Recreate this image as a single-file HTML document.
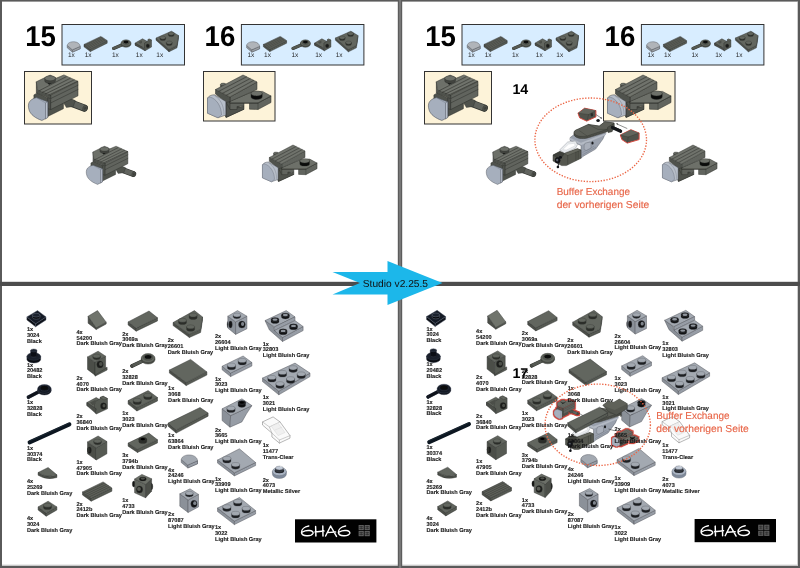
<!DOCTYPE html>
<html><head><meta charset="utf-8"><title>Studio v2.25.5</title>
<style>
html,body{margin:0;padding:0;background:#fff;}
body{width:800px;height:568px;overflow:hidden;font-family:"Liberation Sans",sans-serif;}
svg{display:block;will-change:transform;opacity:0.999;}
text{font-family:"Liberation Sans",sans-serif;text-rendering:geometricPrecision;}
.lb{font-weight:bold;font-size:5.6px;fill:#1a1a1a;stroke:#1a1a1a;stroke-width:0.12px;}
.q{font-size:6.5px;fill:#1e1e1e;}
.num{font-weight:bold;font-size:28.8px;fill:#000;}
.org{font-size:10.1px;fill:#e8674a;stroke:#e8674a;stroke-width:0.15px;}
</style></head><body>
<svg width="800" height="568" viewBox="0 0 800 568">
<defs>
<filter id="redo" x="-20%" y="-20%" width="140%" height="140%"><feMorphology in="SourceAlpha" operator="dilate" radius="0.6" result="d"/><feFlood flood-color="#cf4a40"/><feComposite in2="d" operator="in" result="r"/><feMerge><feMergeNode in="r"/><feMergeNode in="SourceGraphic"/></feMerge></filter>

<g id="top"><text class="num" x="25.2" y="46.3" textLength="30.7" lengthAdjust="spacingAndGlyphs">15</text><text class="num" x="204.6" y="46.3" textLength="30.7" lengthAdjust="spacingAndGlyphs">16</text><g id="sbox"><rect x="62" y="24.5" width="122.5" height="40.5" fill="#d8edff" stroke="#333" stroke-width="1"/><path d="M67.2 45.4 L67.2 47.8 L72.4 52.2 L80.2 48.8 L80.2 46.4 L72.4 49.8 Z" fill="#8f949a" stroke="#4a4d52" stroke-width="0.4"/><path d="M72.4 49.8 L80.2 46.4 L80.2 48.8 L72.4 52.2 Z" fill="#9ba0a6" stroke="#4a4d52" stroke-width="0.4"/><path d="M67.2 45.4 C67.7 42.6 71.2 41.4 74.7 41.8 C77.7 42.1 80.2 44.1 80.2 46.4 L72.4 49.8 Z" fill="#b0b4b9" stroke="#4a4d52" stroke-width="0.4"/><polygon points="84.0,44.4 90.4,49.2 90.4,51.6 84.0,46.8" fill="#4b4e48" stroke="#30322e" stroke-width="0.45" stroke-linejoin="round" /><polygon points="90.4,49.2 107.2,40.8 107.2,43.2 90.4,51.6" fill="#565a53" stroke="#30322e" stroke-width="0.45" stroke-linejoin="round" /><polygon points="84.0,44.4 100.8,36.4 107.2,40.8 90.4,49.2" fill="#585b54" stroke="#30322e" stroke-width="0.45" stroke-linejoin="round" /><polyline points="85.3,45.4 102.1,37.3" fill="none" stroke="#3a3c38" stroke-width="0.5" stroke-linecap="round" stroke-linejoin="round" /><polyline points="85.6,45.7 102.4,37.6" fill="none" stroke="#70746c" stroke-width="0.3" stroke-linecap="round" stroke-linejoin="round" /><polyline points="86.6,46.3 103.4,38.2" fill="none" stroke="#3a3c38" stroke-width="0.5" stroke-linecap="round" stroke-linejoin="round" /><polyline points="86.9,46.6 103.7,38.5" fill="none" stroke="#70746c" stroke-width="0.3" stroke-linecap="round" stroke-linejoin="round" /><polyline points="87.8,47.3 104.6,39.0" fill="none" stroke="#3a3c38" stroke-width="0.5" stroke-linecap="round" stroke-linejoin="round" /><polyline points="88.2,47.6 105.0,39.4" fill="none" stroke="#70746c" stroke-width="0.3" stroke-linecap="round" stroke-linejoin="round" /><polyline points="89.1,48.2 105.9,39.9" fill="none" stroke="#3a3c38" stroke-width="0.5" stroke-linecap="round" stroke-linejoin="round" /><polyline points="89.4,48.6 106.2,40.2" fill="none" stroke="#70746c" stroke-width="0.3" stroke-linecap="round" stroke-linejoin="round" /><line x1="122.8" y1="44.6" x2="113.6" y2="48.4" stroke="#30322e" stroke-width="3.24" stroke-linecap="round"/><line x1="122.8" y1="44.6" x2="113.6" y2="48.4" stroke="#565a53" stroke-width="2.61" stroke-linecap="round"/><ellipse cx="126.0" cy="44.1" rx="5.0" ry="3.2" fill="#4b4e48" stroke="#30322e" stroke-width="0.4"/><ellipse cx="126.0" cy="43.0" rx="5.0" ry="3.2" fill="#62665f" stroke="#30322e" stroke-width="0.4"/><ellipse cx="126.0" cy="42.5" rx="3.2" ry="2.0" fill="#565a53" stroke="#30322e" stroke-width="0.3"/><ellipse cx="126.0" cy="42.1" rx="2.4" ry="1.4" fill="#0b0c0c" stroke="none" stroke-width="0"/><polygon points="135.2,43.0 142.5,38.8 147.5,41.5 145.0,48.0 135.5,45.5" fill="#62665f" stroke="#30322e" stroke-width="0.45" stroke-linejoin="round" /><polygon points="135.2,43.0 144.5,48.5 145.0,50.8 135.2,45.2" fill="#4b4e48" stroke="#30322e" stroke-width="0.45" stroke-linejoin="round" /><polygon points="144.5,43.0 147.5,41.5 148.5,39.2 151.5,40.0 151.5,47.0 145.0,50.8 144.5,48.5" fill="#565a53" stroke="#30322e" stroke-width="0.45" stroke-linejoin="round" /><polygon points="147.5,40.0 149.2,38.8 151.5,40.0 150.0,41.0" fill="#62665f" stroke="#30322e" stroke-width="0.3" stroke-linejoin="round" /><ellipse cx="147.8" cy="45.8" rx="1.7" ry="1.9" fill="#1b1c1a" stroke="#30322e" stroke-width="0.3"/><polygon points="138.5,42.0 142.0,40.5 142.0,43.0 140.2,43.8" fill="#4b4e48" stroke="none" stroke-width="0" stroke-linejoin="round" /><polygon points="156.0,38.0 169.0,49.5 169.0,51.8 156.0,40.2" fill="#4b4e48" stroke="#30322e" stroke-width="0.45" stroke-linejoin="round" /><polygon points="169.0,49.5 177.0,45.5 178.5,35.5 178.5,37.7 177.0,47.8 169.0,51.8" fill="#565a53" stroke="#30322e" stroke-width="0.45" stroke-linejoin="round" /><polygon points="156.0,38.0 171.5,31.2 178.5,35.5 177.0,45.5 169.0,49.5" fill="#62665f" stroke="#30322e" stroke-width="0.45" stroke-linejoin="round" /><path d="M159.9 37.6 v1.4 a2.9 1.6 0 0 0 5.8 0 v-1.4 z" fill="#2b2d29" stroke="#30322e" stroke-width="0.3"/><ellipse cx="162.8" cy="37.6" rx="2.9" ry="1.6" fill="#62665f" stroke="#30322e" stroke-width="0.3"/><path d="M168.3 33.6 v1.4 a2.9 1.6 0 0 0 5.8 0 v-1.4 z" fill="#2b2d29" stroke="#30322e" stroke-width="0.3"/><ellipse cx="171.2" cy="33.6" rx="2.9" ry="1.6" fill="#62665f" stroke="#30322e" stroke-width="0.3"/><path d="M166.3 42.6 v1.4 a2.9 1.6 0 0 0 5.8 0 v-1.4 z" fill="#2b2d29" stroke="#30322e" stroke-width="0.3"/><ellipse cx="169.2" cy="42.6" rx="2.9" ry="1.6" fill="#62665f" stroke="#30322e" stroke-width="0.3"/><text class="q" x="68" y="56.8">1x</text><text class="q" x="84.7" y="56.8">1x</text><text class="q" x="112" y="56.8">1x</text><text class="q" x="135.8" y="56.8">1x</text><text class="q" x="156.3" y="56.8">1x</text></g><use href="#sbox" x="179.4" y="0"/><rect x="24.5" y="71.5" width="67" height="52.5" fill="#fdf3d9" stroke="#333" stroke-width="1"/><rect x="203.5" y="71.5" width="71.5" height="49.5" fill="#fdf3d9" stroke="#333" stroke-width="1"/><g id="m15"><line x1="68.4" y1="102.1" x2="84.4" y2="108.1" stroke="#2c2e2a" stroke-width="7.10" stroke-linecap="round"/><line x1="68.4" y1="102.1" x2="84.4" y2="108.1" stroke="#61645e" stroke-width="5.92" stroke-linecap="round"/><ellipse cx="84.9" cy="108.3" rx="2.0" ry="3.2" fill="#4f524c" stroke="#2c2e2a" stroke-width="0.4" transform="rotate(20 84.9 108.3)"/><ellipse cx="85.1" cy="108.3" rx="0.9" ry="1.5" fill="#3b3d39" stroke="none" stroke-width="0" transform="rotate(20 85.1 108.3)"/><polygon points="63.4,102.5 70.4,98.6 75.3,100.6 73.3,106.5 66.4,107.5" fill="#4f524c" stroke="#2c2e2a" stroke-width="0.4" stroke-linejoin="round" /><polygon points="47.7,99.6 63.4,102.5 63.4,108.7 47.7,116.5" fill="#4f524c" stroke="#2c2e2a" stroke-width="0.5" stroke-linejoin="round" /><polygon points="33.9,94.9 37.3,92.9 48.7,98.4 47.7,101.6 47.7,116.5 45.9,117.5 33.9,99.6" fill="#4f524c" stroke="#2c2e2a" stroke-width="0.5" stroke-linejoin="round" /><polygon points="50.6,94.9 78.0,81.4 78.0,95.8 50.6,109.6" fill="#61645e" stroke="#2c2e2a" stroke-width="0.5" stroke-linejoin="round" /><polyline points="50.6,98.6 78.0,85.2" fill="none" stroke="#2c2e2a" stroke-width="0.5" stroke-linecap="round" stroke-linejoin="round" /><polyline points="50.6,103.0 78.0,89.5" fill="none" stroke="#2c2e2a" stroke-width="0.5" stroke-linecap="round" stroke-linejoin="round" /><polygon points="47.7,96.6 50.6,94.9 50.6,109.6 47.7,108.5" fill="#4f524c" stroke="#2c2e2a" stroke-width="0.4" stroke-linejoin="round" /><polygon points="36.3,81.8 37.3,89.7 37.3,93.3 36.3,92.9" fill="#4f524c" stroke="#2c2e2a" stroke-width="0.4" stroke-linejoin="round" /><polygon points="37.3,89.7 50.6,95.1 50.6,98.8 37.3,93.3" fill="#4f524c" stroke="#2c2e2a" stroke-width="0.4" stroke-linejoin="round" /><polygon points="36.3,81.8 50.1,75.1 56.5,78.1 63.9,74.9 78.0,81.4 50.6,95.1 37.3,89.7" fill="#6d7069" stroke="#2c2e2a" stroke-width="0.5" stroke-linejoin="round" /><polyline points="38.8,90.9 66.2,76.7" fill="none" stroke="#393b37" stroke-width="0.7" stroke-linecap="round" stroke-linejoin="round" /><polyline points="37.4,90.2 64.6,75.9" fill="none" stroke="#7a7d76" stroke-width="0.35" stroke-linecap="round" stroke-linejoin="round" /><polyline points="42.2,92.5 70.2,78.3" fill="none" stroke="#393b37" stroke-width="0.7" stroke-linecap="round" stroke-linejoin="round" /><polyline points="40.9,91.8 68.6,77.5" fill="none" stroke="#7a7d76" stroke-width="0.35" stroke-linecap="round" stroke-linejoin="round" /><polyline points="45.5,93.9 74.1,79.9" fill="none" stroke="#393b37" stroke-width="0.7" stroke-linecap="round" stroke-linejoin="round" /><polyline points="44.1,93.2 72.5,79.1" fill="none" stroke="#7a7d76" stroke-width="0.35" stroke-linecap="round" stroke-linejoin="round" /><polyline points="48.7,95.1 77.7,81.2" fill="none" stroke="#393b37" stroke-width="0.7" stroke-linecap="round" stroke-linejoin="round" /><polyline points="47.3,94.5 76.2,80.5" fill="none" stroke="#7a7d76" stroke-width="0.35" stroke-linecap="round" stroke-linejoin="round" /><polygon points="45.2,80.4 49.1,84.8 52.6,82.8" fill="#0c0d0c" stroke="none" stroke-width="0" stroke-linejoin="round" /><path d="M44.7 78.3 v2.6 a5.4 2.5 0 0 0 10.8 0 v-2.6 z" fill="#42443f" stroke="#2c2e2a" stroke-width="0.4"/><ellipse cx="50.1" cy="78.3" rx="5.4" ry="2.5" fill="#6d7069" stroke="#2c2e2a" stroke-width="0.4"/><path d="M 36.6 97.6 L 47.7 101.8 L 47.7 117.5 L 41.9 120.5 C 35.8 118.3 30.1 114.6 28.9 109.4 C 28.1 106.5 28.1 103.5 29.7 101.4 C 31.7 99.1 34.4 97.9 36.6 97.6 Z" fill="#a6afbd" stroke="#40454d" stroke-width="0.5" stroke-linejoin="round" /><polygon points="45.5,102.9 47.7,101.8 47.7,117.5 45.5,118.9" fill="#b7bec9" stroke="#40454d" stroke-width="0.35" stroke-linejoin="round" /><polyline points="36.3,97.6 45.5,102.9 45.5,118.9" fill="none" stroke="#6d7480" stroke-width="0.4" stroke-linecap="round" stroke-linejoin="round" /></g><g id="m16"><polygon points="225.5,101.5 230.0,101.0 244.0,109.5 244.0,109.2 226.2,117.4 225.5,117.0" fill="#4f524c" stroke="#2c2e2a" stroke-width="0.5" stroke-linejoin="round" /><polygon points="226.2,102.5 226.2,117.4 244.0,109.2 244.0,106.0 230.0,109.5" fill="#4f524c" stroke="#2c2e2a" stroke-width="0.5" stroke-linejoin="round" /><polygon points="230.0,101.0 230.0,109.5 237.0,109.5 237.0,106.5 244.0,106.0 244.0,103.0 249.5,103.0 249.5,109.2 258.0,109.5 271.0,102.5 271.0,96.0 258.0,103.0 230.0,103.0" fill="#61645e" stroke="#2c2e2a" stroke-width="0.5" stroke-linejoin="round" /><polygon points="230.0,101.0 252.0,91.8 262.5,91.4 271.0,96.0 258.0,103.0 230.0,103.0" fill="#6d7069" stroke="#2c2e2a" stroke-width="0.5" stroke-linejoin="round" /><polyline points="230.0,103.0 258.0,103.0 271.0,96.0" fill="none" stroke="#2c2e2a" stroke-width="0.4" stroke-linecap="round" stroke-linejoin="round" /><polyline points="258.0,103.0 258.0,109.5" fill="none" stroke="#2c2e2a" stroke-width="0.4" stroke-linecap="round" stroke-linejoin="round" /><path d="M251.0 93.4 v3.6 a5.6 2.5 0 0 0 11.2 0 v-3.6 z" fill="#0b0c0b" stroke="#2c2e2a" stroke-width="0.4"/><ellipse cx="256.6" cy="93.4" rx="5.6" ry="2.5" fill="#6d7069" stroke="#2c2e2a" stroke-width="0.4"/><polygon points="230.0,97.0 257.0,82.0 257.0,89.5 230.0,101.5" fill="#61645e" stroke="#2c2e2a" stroke-width="0.5" stroke-linejoin="round" /><polygon points="215.5,89.5 230.0,97.0 230.0,101.5 226.2,102.5 215.5,94.0" fill="#4f524c" stroke="#2c2e2a" stroke-width="0.5" stroke-linejoin="round" /><path d="M220.4 84.5 v2.6 a2.8 1.4 0 0 0 5.6 0 v-2.6 z" fill="#42443f" stroke="#2c2e2a" stroke-width="0.35"/><ellipse cx="223.2" cy="84.5" rx="2.8" ry="1.4" fill="#6d7069" stroke="#2c2e2a" stroke-width="0.35"/><polygon points="215.5,89.5 243.0,75.0 257.0,82.0 230.0,97.0" fill="#6d7069" stroke="#2c2e2a" stroke-width="0.5" stroke-linejoin="round" /><polyline points="219.0,91.2 246.5,76.8" fill="none" stroke="#393b37" stroke-width="0.7" stroke-linecap="round" stroke-linejoin="round" /><polyline points="217.4,90.3 244.9,75.9" fill="none" stroke="#7a7d76" stroke-width="0.35" stroke-linecap="round" stroke-linejoin="round" /><polyline points="222.8,93.2 250.0,78.6" fill="none" stroke="#393b37" stroke-width="0.7" stroke-linecap="round" stroke-linejoin="round" /><polyline points="221.2,92.3 248.4,77.7" fill="none" stroke="#7a7d76" stroke-width="0.35" stroke-linecap="round" stroke-linejoin="round" /><polyline points="226.5,95.2 253.6,80.4" fill="none" stroke="#393b37" stroke-width="0.7" stroke-linecap="round" stroke-linejoin="round" /><polyline points="224.9,94.3 252.0,79.5" fill="none" stroke="#7a7d76" stroke-width="0.35" stroke-linecap="round" stroke-linejoin="round" /><polyline points="228.5,96.0 255.5,81.2" fill="none" stroke="#7a7d76" stroke-width="0.35" stroke-linecap="round" stroke-linejoin="round" /><path d="M207.5 98.0 C209.0 95.5 212.0 94.8 214.5 94.8 L225.8 101.5 L225.8 115.0 L218.0 117.8 L207.5 113.2 Z" fill="#b7bec9" stroke="#40454d" stroke-width="0.5"/><path d="M207.5 98.0 L210.0 97.0 C217.0 99.0 221.5 107.0 221.5 115.0 L218.0 117.8 L207.5 113.2 Z" fill="#a6afbd" stroke="#5a616c" stroke-width="0.4"/><path d="M214.5 95.5 C220.5 99.0 224.0 106.0 224.0 114.5" fill="none" stroke="#6d7480" stroke-width="0.4"/></g><use href="#m15" transform="translate(62.5,83.4) scale(0.838)"/><use href="#m16" transform="translate(84.0,80.5) scale(0.86)"/></g>
<g id="list"><polygon points="26.9,316.9 35.6,323.8 35.6,326.8 26.9,319.9" fill="#0a0d13" stroke="#4a5262" stroke-width="0.45" stroke-linejoin="round" /><polygon points="35.6,323.8 46.0,316.9 46.0,319.9 35.6,326.8" fill="#0e121a" stroke="#4a5262" stroke-width="0.45" stroke-linejoin="round" /><polygon points="26.9,316.9 37.5,310.6 46.0,316.9 35.6,323.8" fill="#141a25" stroke="#4a5262" stroke-width="0.45" stroke-linejoin="round" /><path d="M32.5 315.2 v2.4 a3.8 1.9 0 0 0 7.5 0 v-2.4 z" fill="#05070b" stroke="#69717f" stroke-width="0.5"/><ellipse cx="36.2" cy="315.2" rx="3.8" ry="1.9" fill="#1a212d" stroke="#69717f" stroke-width="0.5"/><text class="lb" x="26.90" y="330.90"><tspan x="26.90" dy="0">1x</tspan><tspan x="26.90" dy="5.85">3024</tspan><tspan x="26.90" dy="5.85">Black</tspan></text><path d="M26.9 356.5 v2.7 a6.9 3.8 0 0 0 13.8 0 v-2.7 z" fill="#090c12" stroke="#3b4250" stroke-width="0.4"/><ellipse cx="33.8" cy="356.5" rx="6.9" ry="3.8" fill="#1a202b" stroke="#3b4250" stroke-width="0.4"/><ellipse cx="33.8" cy="355.0" rx="4.2" ry="2.1" fill="#0a0d13" stroke="#2e3440" stroke-width="0.3"/><path d="M30.6 350.5 v5.1 a3.1 1.5 0 0 0 6.2 0 v-5.1 z" fill="#0b0e15" stroke="#3b4250" stroke-width="0.4"/><ellipse cx="33.8" cy="350.5" rx="3.1" ry="1.5" fill="#1d2430" stroke="#3b4250" stroke-width="0.4"/><text class="lb" x="26.90" y="366.50"><tspan x="26.90" dy="0">1x</tspan><tspan x="26.90" dy="5.85">20482</tspan><tspan x="26.90" dy="5.85">Black</tspan></text><line x1="40.0" y1="391.2" x2="28.5" y2="397.2" stroke="#4a5262" stroke-width="3.75" stroke-linecap="round"/><line x1="40.0" y1="391.2" x2="28.5" y2="397.2" stroke="#0e121a" stroke-width="3.00" stroke-linecap="round"/><ellipse cx="28.2" cy="397.4" rx="1.0" ry="1.6" fill="#0a0d13" stroke="#4a5262" stroke-width="0.3" transform="rotate(-25 28.2 397.4)"/><ellipse cx="44.4" cy="390.5" rx="6.9" ry="4.5" fill="#0a0d13" stroke="#4a5262" stroke-width="0.4"/><ellipse cx="44.4" cy="389.0" rx="6.9" ry="4.5" fill="#141a25" stroke="#4a5262" stroke-width="0.4"/><ellipse cx="44.4" cy="388.2" rx="4.5" ry="2.8" fill="#0e121a" stroke="#4a5262" stroke-width="0.3"/><ellipse cx="44.4" cy="387.8" rx="3.4" ry="1.9" fill="#0b0c0c" stroke="none" stroke-width="0"/><text class="lb" x="26.90" y="404.00"><tspan x="26.90" dy="0">1x</tspan><tspan x="26.90" dy="5.85">32828</tspan><tspan x="26.90" dy="5.85">Black</tspan></text><line x1="29.6" y1="442.4" x2="69.4" y2="424.4" stroke="#0c1620" stroke-width="4.0" stroke-linecap="round"/><line x1="29.3" y1="441.2" x2="69.0" y2="423.2" stroke="#24303d" stroke-width="0.6" stroke-linecap="round"/><text class="lb" x="26.90" y="449.75"><tspan x="26.90" dy="0">1x</tspan><tspan x="26.90" dy="5.85">30374</tspan><tspan x="26.90" dy="5.85">Black</tspan></text><path d="M38.1 472.5 L38.1 475.2 Q46.9 480.6 56.9 477.5 L56.9 474.8 Q48.8 478.8 38.1 472.5 Z" fill="#4b4e48" stroke="#30322e" stroke-width="0.45"/><path d="M38.1 472.5 L48.1 467.5 L56.9 474.8 Q46.9 478.5 38.1 472.5 Z" fill="#62665f" stroke="#30322e" stroke-width="0.45"/><text class="lb" x="26.90" y="483.10"><tspan x="26.90" dy="0">4x</tspan><tspan x="26.90" dy="5.85">25269</tspan><tspan x="26.90" dy="5.85">Dark Bluish Gray</tspan></text><polygon points="38.1,506.9 46.2,513.1 46.2,516.2 38.1,510.0" fill="#4b4e48" stroke="#30322e" stroke-width="0.45" stroke-linejoin="round" /><polygon points="46.2,513.1 56.9,506.9 56.9,510.0 46.2,516.2" fill="#565a53" stroke="#30322e" stroke-width="0.45" stroke-linejoin="round" /><polygon points="38.1,506.9 48.1,501.2 56.9,506.9 46.2,513.1" fill="#62665f" stroke="#30322e" stroke-width="0.45" stroke-linejoin="round" /><path d="M43.5 505.2 v2.4 a4.0 2.0 0 0 0 8.0 0 v-2.4 z" fill="#2b2d29" stroke="#30322e" stroke-width="0.3"/><ellipse cx="47.5" cy="505.2" rx="4.0" ry="2.0" fill="#62665f" stroke="#30322e" stroke-width="0.3"/><text class="lb" x="26.90" y="520.20"><tspan x="26.90" dy="0">4x</tspan><tspan x="26.90" dy="5.85">3024</tspan><tspan x="26.90" dy="5.85">Dark Bluish Gray</tspan></text><polygon points="88.1,316.2 96.2,327.8 96.2,329.5 88.1,323.2" fill="#4b4e48" stroke="#30322e" stroke-width="0.45" stroke-linejoin="round" /><polygon points="96.2,327.8 106.2,322.2 106.2,324.0 96.2,329.5" fill="#565a53" stroke="#30322e" stroke-width="0.45" stroke-linejoin="round" /><polygon points="88.1,316.2 97.5,310.6 106.2,322.2 96.2,327.8" fill="#70746c" stroke="#30322e" stroke-width="0.45" stroke-linejoin="round" /><text class="lb" x="76.50" y="333.75"><tspan x="76.50" dy="0">4x</tspan><tspan x="76.50" dy="5.85">54200</tspan><tspan x="76.50" dy="5.85">Dark Bluish Gray</tspan></text><polygon points="95.0,372.8 107.1,367.2 107.1,370.0 95.0,376.2" fill="#565a53" stroke="#30322e" stroke-width="0.45" stroke-linejoin="round" /><polygon points="87.5,356.9 95.0,362.2 95.0,375.2 87.5,369.4" fill="#4b4e48" stroke="#30322e" stroke-width="0.45" stroke-linejoin="round" /><polygon points="95.0,362.2 105.6,356.2 105.6,368.5 95.0,375.2" fill="#565a53" stroke="#30322e" stroke-width="0.45" stroke-linejoin="round" /><polygon points="87.5,356.9 98.1,351.2 105.6,356.2 95.0,362.2" fill="#62665f" stroke="#30322e" stroke-width="0.45" stroke-linejoin="round" /><path d="M92.9 356.0 v2.1 a3.8 1.9 0 0 0 7.5 0 v-2.1 z" fill="#2b2d29" stroke="#30322e" stroke-width="0.3"/><ellipse cx="96.6" cy="356.0" rx="3.8" ry="1.9" fill="#62665f" stroke="#30322e" stroke-width="0.3"/><ellipse cx="100.0" cy="364.4" rx="3.2" ry="3.5" fill="#1b1c1a" stroke="#30322e" stroke-width="0.3"/><ellipse cx="100.8" cy="364.0" rx="1.8" ry="2.0" fill="#4c4f49" stroke="none" stroke-width="0"/><text class="lb" x="76.50" y="379.75"><tspan x="76.50" dy="0">2x</tspan><tspan x="76.50" dy="5.85">4070</tspan><tspan x="76.50" dy="5.85">Dark Bluish Gray</tspan></text><polygon points="86.9,402.5 96.2,397.5 100.0,399.8 96.2,410.6 86.9,405.6" fill="#62665f" stroke="#30322e" stroke-width="0.45" stroke-linejoin="round" /><polygon points="86.9,402.5 96.2,408.8 96.2,413.8 86.9,405.6" fill="#4b4e48" stroke="#30322e" stroke-width="0.45" stroke-linejoin="round" /><polygon points="94.4,401.9 100.0,398.8 100.0,397.5 103.1,396.2 107.5,398.5 107.5,408.8 96.2,414.0 96.2,408.8 94.4,407.5" fill="#565a53" stroke="#30322e" stroke-width="0.45" stroke-linejoin="round" /><polygon points="100.0,397.5 103.1,396.2 107.5,398.5 104.0,400.0" fill="#62665f" stroke="#30322e" stroke-width="0.35" stroke-linejoin="round" /><polygon points="90.0,402.5 95.6,399.8 95.6,403.8 92.5,405.2" fill="#4b4e48" stroke="none" stroke-width="0" stroke-linejoin="round" /><ellipse cx="103.5" cy="406.0" rx="3.0" ry="3.2" fill="#1b1c1a" stroke="#30322e" stroke-width="0.3"/><ellipse cx="104.0" cy="405.8" rx="1.5" ry="1.8" fill="#4c4f49" stroke="none" stroke-width="0"/><text class="lb" x="76.50" y="418.10"><tspan x="76.50" dy="0">2x</tspan><tspan x="76.50" dy="5.85">36840</tspan><tspan x="76.50" dy="5.85">Dark Bluish Gray</tspan></text><polygon points="87.5,441.9 96.2,447.8 96.2,460.0 87.5,453.8" fill="#4b4e48" stroke="#30322e" stroke-width="0.45" stroke-linejoin="round" /><polygon points="96.2,447.8 106.9,441.5 106.9,453.8 96.2,460.0" fill="#565a53" stroke="#30322e" stroke-width="0.45" stroke-linejoin="round" /><polygon points="87.5,441.9 98.1,436.0 106.9,441.5 96.2,447.8" fill="#62665f" stroke="#30322e" stroke-width="0.45" stroke-linejoin="round" /><path d="M93.8 441.0 v2.1 a3.8 1.9 0 0 0 7.5 0 v-2.1 z" fill="#2b2d29" stroke="#30322e" stroke-width="0.3"/><ellipse cx="97.5" cy="441.0" rx="3.8" ry="1.9" fill="#62665f" stroke="#30322e" stroke-width="0.3"/><ellipse cx="89.5" cy="450.2" rx="1.9" ry="3.2" fill="#1b1c1a" stroke="#30322e" stroke-width="0.3"/><ellipse cx="88.5" cy="449.8" rx="1.2" ry="2.8" fill="#2e302c" stroke="none" stroke-width="0"/><text class="lb" x="76.50" y="463.75"><tspan x="76.50" dy="0">1x</tspan><tspan x="76.50" dy="5.85">47905</tspan><tspan x="76.50" dy="5.85">Dark Bluish Gray</tspan></text><polygon points="82.5,491.9 91.2,498.1 91.2,501.2 82.5,495.0" fill="#4b4e48" stroke="#30322e" stroke-width="0.45" stroke-linejoin="round" /><polygon points="91.2,498.1 111.9,488.1 111.9,491.2 91.2,501.2" fill="#565a53" stroke="#30322e" stroke-width="0.45" stroke-linejoin="round" /><polygon points="82.5,491.9 103.1,481.9 111.9,488.1 91.2,498.1" fill="#585b54" stroke="#30322e" stroke-width="0.45" stroke-linejoin="round" /><polyline points="84.2,493.1 104.9,483.1" fill="none" stroke="#3a3c38" stroke-width="0.5" stroke-linecap="round" stroke-linejoin="round" /><polyline points="84.8,493.6 105.4,483.6" fill="none" stroke="#70746c" stroke-width="0.3" stroke-linecap="round" stroke-linejoin="round" /><polyline points="86.0,494.4 106.6,484.4" fill="none" stroke="#3a3c38" stroke-width="0.5" stroke-linecap="round" stroke-linejoin="round" /><polyline points="86.5,494.9 107.1,484.9" fill="none" stroke="#70746c" stroke-width="0.3" stroke-linecap="round" stroke-linejoin="round" /><polyline points="87.8,495.6 108.4,485.6" fill="none" stroke="#3a3c38" stroke-width="0.5" stroke-linecap="round" stroke-linejoin="round" /><polyline points="88.2,496.1 108.9,486.1" fill="none" stroke="#70746c" stroke-width="0.3" stroke-linecap="round" stroke-linejoin="round" /><polyline points="89.5,496.9 110.1,486.9" fill="none" stroke="#3a3c38" stroke-width="0.5" stroke-linecap="round" stroke-linejoin="round" /><polyline points="90.0,497.4 110.6,487.4" fill="none" stroke="#70746c" stroke-width="0.3" stroke-linecap="round" stroke-linejoin="round" /><text class="lb" x="76.50" y="505.60"><tspan x="76.50" dy="0">2x</tspan><tspan x="76.50" dy="5.85">2412b</tspan><tspan x="76.50" dy="5.85">Dark Bluish Gray</tspan></text><polygon points="128.1,321.9 136.2,328.1 136.2,331.2 128.1,325.0" fill="#4b4e48" stroke="#30322e" stroke-width="0.45" stroke-linejoin="round" /><polygon points="136.2,328.1 157.5,317.8 157.5,320.9 136.2,331.2" fill="#565a53" stroke="#30322e" stroke-width="0.45" stroke-linejoin="round" /><polygon points="128.1,321.9 149.0,311.0 157.5,317.8 136.2,328.1" fill="#62665f" stroke="#30322e" stroke-width="0.45" stroke-linejoin="round" /><text class="lb" x="122.25" y="335.60"><tspan x="122.25" dy="0">2x</tspan><tspan x="122.25" dy="5.85">3069a</tspan><tspan x="122.25" dy="5.85">Dark Bluish Gray</tspan></text><line x1="143.8" y1="360.4" x2="132.0" y2="366.0" stroke="#30322e" stroke-width="3.75" stroke-linecap="round"/><line x1="143.8" y1="360.4" x2="132.0" y2="366.0" stroke="#565a53" stroke-width="3.00" stroke-linecap="round"/><ellipse cx="131.8" cy="366.1" rx="1.0" ry="1.6" fill="#4b4e48" stroke="#30322e" stroke-width="0.3" transform="rotate(-25 131.8 366.1)"/><ellipse cx="148.1" cy="359.6" rx="6.9" ry="4.5" fill="#4b4e48" stroke="#30322e" stroke-width="0.4"/><ellipse cx="148.1" cy="358.1" rx="6.9" ry="4.5" fill="#62665f" stroke="#30322e" stroke-width="0.4"/><ellipse cx="148.1" cy="357.4" rx="4.5" ry="2.8" fill="#565a53" stroke="#30322e" stroke-width="0.3"/><ellipse cx="148.1" cy="356.9" rx="3.4" ry="1.9" fill="#0b0c0c" stroke="none" stroke-width="0"/><text class="lb" x="122.25" y="373.10"><tspan x="122.25" dy="0">2x</tspan><tspan x="122.25" dy="5.85">32828</tspan><tspan x="122.25" dy="5.85">Dark Bluish Gray</tspan></text><polygon points="128.1,400.6 136.9,407.5 136.9,411.0 128.1,404.1" fill="#4b4e48" stroke="#30322e" stroke-width="0.45" stroke-linejoin="round" /><polygon points="136.9,407.5 157.5,397.5 157.5,401.0 136.9,411.0" fill="#565a53" stroke="#30322e" stroke-width="0.45" stroke-linejoin="round" /><polygon points="128.1,400.6 148.1,390.6 157.5,397.5 136.9,407.5" fill="#62665f" stroke="#30322e" stroke-width="0.45" stroke-linejoin="round" /><path d="M133.2 400.2 v2.4 a4.0 2.0 0 0 0 8.0 0 v-2.4 z" fill="#2b2d29" stroke="#30322e" stroke-width="0.3"/><ellipse cx="137.2" cy="400.2" rx="4.0" ry="2.0" fill="#62665f" stroke="#30322e" stroke-width="0.3"/><path d="M143.8 395.2 v2.4 a4.0 2.0 0 0 0 8.0 0 v-2.4 z" fill="#2b2d29" stroke="#30322e" stroke-width="0.3"/><ellipse cx="147.8" cy="395.2" rx="4.0" ry="2.0" fill="#62665f" stroke="#30322e" stroke-width="0.3"/><text class="lb" x="122.25" y="415.25"><tspan x="122.25" dy="0">1x</tspan><tspan x="122.25" dy="5.85">3023</tspan><tspan x="122.25" dy="5.85">Dark Bluish Gray</tspan></text><polygon points="128.1,443.1 137.5,449.4 137.5,452.5 128.1,446.2" fill="#4b4e48" stroke="#30322e" stroke-width="0.45" stroke-linejoin="round" /><polygon points="137.5,449.4 157.5,439.8 157.5,442.9 137.5,452.5" fill="#565a53" stroke="#30322e" stroke-width="0.45" stroke-linejoin="round" /><polygon points="128.1,443.1 148.8,433.1 157.5,439.8 137.5,449.4" fill="#62665f" stroke="#30322e" stroke-width="0.45" stroke-linejoin="round" /><path d="M138.8 439.2 v2.4 a4.0 2.0 0 0 0 8.0 0 v-2.4 z" fill="#2b2d29" stroke="#30322e" stroke-width="0.3"/><ellipse cx="142.8" cy="439.2" rx="4.0" ry="2.0" fill="#2b2d29" stroke="#30322e" stroke-width="0.3"/><ellipse cx="142.8" cy="439.2" rx="2.2" ry="1.1" fill="#000" stroke="none" stroke-width="0"/><text class="lb" x="122.25" y="456.90"><tspan x="122.25" dy="0">3x</tspan><tspan x="122.25" dy="5.85">3794b</tspan><tspan x="122.25" dy="5.85">Dark Bluish Gray</tspan></text><ellipse cx="133.8" cy="484.0" rx="1.5" ry="3.0" fill="#141513" stroke="#30322e" stroke-width="0.3"/><ellipse cx="151.0" cy="486.5" rx="1.8" ry="3.5" fill="#141513" stroke="#30322e" stroke-width="0.3"/><polygon points="134.6,479.0 145.6,484.4 145.6,497.8 134.6,492.8" fill="#62665f" stroke="#30322e" stroke-width="0.45" stroke-linejoin="round" /><polygon points="145.6,484.4 151.6,478.8 151.6,491.2 145.6,497.8" fill="#4b4e48" stroke="#30322e" stroke-width="0.45" stroke-linejoin="round" /><polygon points="134.6,479.0 141.9,474.4 151.6,478.8 145.6,484.4" fill="#6c7068" stroke="#30322e" stroke-width="0.45" stroke-linejoin="round" /><ellipse cx="142.8" cy="479.0" rx="3.5" ry="2.0" fill="#141513" stroke="#30322e" stroke-width="0.3"/><ellipse cx="142.8" cy="478.6" rx="2.2" ry="1.1" fill="#4e514b" stroke="none" stroke-width="0"/><ellipse cx="139.5" cy="489.4" rx="3.2" ry="3.5" fill="#1b1c1a" stroke="#30322e" stroke-width="0.3"/><ellipse cx="139.0" cy="489.0" rx="1.9" ry="2.0" fill="#5a5d56" stroke="none" stroke-width="0"/><text class="lb" x="122.25" y="501.90"><tspan x="122.25" dy="0">1x</tspan><tspan x="122.25" dy="5.85">4733</tspan><tspan x="122.25" dy="5.85">Dark Bluish Gray</tspan></text><polygon points="173.1,322.5 189.4,334.4 189.4,337.5 173.1,325.6" fill="#4b4e48" stroke="#30322e" stroke-width="0.45" stroke-linejoin="round" /><polygon points="189.4,334.4 200.6,329.4 202.5,316.9 202.5,320.0 200.6,332.5 189.4,337.5" fill="#565a53" stroke="#30322e" stroke-width="0.45" stroke-linejoin="round" /><polygon points="173.1,322.5 194.4,310.6 202.5,316.9 200.6,329.4 189.4,334.4" fill="#62665f" stroke="#30322e" stroke-width="0.45" stroke-linejoin="round" /><path d="M178.5 320.2 v2.4 a4.0 2.0 0 0 0 8.0 0 v-2.4 z" fill="#2b2d29" stroke="#30322e" stroke-width="0.3"/><ellipse cx="182.5" cy="320.2" rx="4.0" ry="2.0" fill="#62665f" stroke="#30322e" stroke-width="0.3"/><path d="M189.1 315.0 v2.4 a4.0 2.0 0 0 0 8.0 0 v-2.4 z" fill="#2b2d29" stroke="#30322e" stroke-width="0.3"/><ellipse cx="193.1" cy="315.0" rx="4.0" ry="2.0" fill="#62665f" stroke="#30322e" stroke-width="0.3"/><path d="M186.6 326.8 v2.4 a4.0 2.0 0 0 0 8.0 0 v-2.4 z" fill="#2b2d29" stroke="#30322e" stroke-width="0.3"/><ellipse cx="190.6" cy="326.8" rx="4.0" ry="2.0" fill="#62665f" stroke="#30322e" stroke-width="0.3"/><text class="lb" x="167.75" y="342.25"><tspan x="167.75" dy="0">2x</tspan><tspan x="167.75" dy="5.85">26601</tspan><tspan x="167.75" dy="5.85">Dark Bluish Gray</tspan></text><polygon points="169.4,370.0 186.2,382.5 186.2,385.6 169.4,373.1" fill="#4b4e48" stroke="#30322e" stroke-width="0.45" stroke-linejoin="round" /><polygon points="186.2,382.5 206.9,371.9 206.9,375.0 186.2,385.6" fill="#565a53" stroke="#30322e" stroke-width="0.45" stroke-linejoin="round" /><polygon points="169.4,370.0 190.6,359.4 206.9,371.9 186.2,382.5" fill="#62665f" stroke="#30322e" stroke-width="0.45" stroke-linejoin="round" /><text class="lb" x="168.10" y="390.25"><tspan x="168.10" dy="0">1x</tspan><tspan x="168.10" dy="5.85">3068</tspan><tspan x="168.10" dy="5.85">Dark Bluish Gray</tspan></text><polygon points="168.1,423.1 176.2,430.0 176.2,433.1 168.1,426.2" fill="#4b4e48" stroke="#30322e" stroke-width="0.45" stroke-linejoin="round" /><polygon points="176.2,430.0 208.1,413.1 208.1,416.2 176.2,433.1" fill="#565a53" stroke="#30322e" stroke-width="0.45" stroke-linejoin="round" /><polygon points="168.1,423.1 200.0,407.5 208.1,413.1 176.2,430.0" fill="#62665f" stroke="#30322e" stroke-width="0.45" stroke-linejoin="round" /><text class="lb" x="168.10" y="437.10"><tspan x="168.10" dy="0">1x</tspan><tspan x="168.10" dy="5.85">63864</tspan><tspan x="168.10" dy="5.85">Dark Bluish Gray</tspan></text><path d="M181.2 459.5 L181.2 462.5 L187.8 468.0 L197.5 463.8 L197.5 460.8 L187.8 465.0 Z" fill="#8b9199" stroke="#4b4f55" stroke-width="0.4"/><path d="M187.8 465.0 L197.5 460.8 L197.5 463.8 L187.8 468.0 Z" fill="#979da6" stroke="#4b4f55" stroke-width="0.4"/><path d="M181.2 459.5 C181.9 456.0 186.2 454.5 190.6 455.0 C194.4 455.4 197.5 457.9 197.5 460.8 L187.8 465.0 Z" fill="#a3a9b1" stroke="#4b4f55" stroke-width="0.4"/><text class="lb" x="168.10" y="471.50"><tspan x="168.10" dy="0">4x</tspan><tspan x="168.10" dy="5.85">24246</tspan><tspan x="168.10" dy="5.85">Light Bluish Gray</tspan></text><polygon points="179.8,493.8 188.1,500.0 188.1,512.5 179.8,506.2" fill="#8b9199" stroke="#4b4f55" stroke-width="0.45" stroke-linejoin="round" /><polygon points="188.1,500.0 198.5,494.4 198.5,506.9 188.1,512.5" fill="#979da6" stroke="#4b4f55" stroke-width="0.45" stroke-linejoin="round" /><polygon points="179.8,493.8 190.0,488.8 198.5,494.4 188.1,500.0" fill="#a3a9b1" stroke="#4b4f55" stroke-width="0.45" stroke-linejoin="round" /><path d="M185.6 493.2 v2.1 a3.8 1.9 0 0 0 7.5 0 v-2.1 z" fill="#1d1f22" stroke="#4b4f55" stroke-width="0.3"/><ellipse cx="189.4" cy="493.2" rx="3.8" ry="1.9" fill="#a3a9b1" stroke="#4b4f55" stroke-width="0.3"/><ellipse cx="194.0" cy="503.8" rx="3.2" ry="3.6" fill="#121315" stroke="#4b4f55" stroke-width="0.3"/><ellipse cx="194.8" cy="503.2" rx="1.6" ry="1.9" fill="#7f858d" stroke="none" stroke-width="0"/><text class="lb" x="168.10" y="516.25"><tspan x="168.10" dy="0">2x</tspan><tspan x="168.10" dy="5.85">87087</tspan><tspan x="168.10" dy="5.85">Light Bluish Gray</tspan></text><ellipse cx="228.8" cy="324.4" rx="1.8" ry="3.5" fill="#121315" stroke="#4b4f55" stroke-width="0.3"/><polygon points="227.8,316.2 235.6,321.9 235.6,334.4 227.8,328.1" fill="#8b9199" stroke="#4b4f55" stroke-width="0.45" stroke-linejoin="round" /><polygon points="235.6,321.9 246.9,316.2 246.9,328.8 235.6,334.4" fill="#979da6" stroke="#4b4f55" stroke-width="0.45" stroke-linejoin="round" /><polygon points="227.8,316.2 237.5,310.6 246.9,316.2 235.6,321.9" fill="#a3a9b1" stroke="#4b4f55" stroke-width="0.45" stroke-linejoin="round" /><path d="M233.1 315.0 v2.1 a3.8 1.9 0 0 0 7.5 0 v-2.1 z" fill="#1d1f22" stroke="#4b4f55" stroke-width="0.3"/><ellipse cx="236.9" cy="315.0" rx="3.8" ry="1.9" fill="#a3a9b1" stroke="#4b4f55" stroke-width="0.3"/><ellipse cx="230.5" cy="324.5" rx="1.8" ry="3.4" fill="#121315" stroke="#4b4f55" stroke-width="0.3"/><ellipse cx="241.9" cy="324.5" rx="3.4" ry="3.6" fill="#121315" stroke="#4b4f55" stroke-width="0.3"/><ellipse cx="242.6" cy="324.0" rx="1.6" ry="1.9" fill="#7f858d" stroke="none" stroke-width="0"/><text class="lb" x="215.00" y="338.10"><tspan x="215.00" dy="0">2x</tspan><tspan x="215.00" dy="5.85">26604</tspan><tspan x="215.00" dy="5.85">Light Bluish Gray</tspan></text><polygon points="222.1,366.2 230.6,373.1 230.6,376.6 222.1,369.8" fill="#8b9199" stroke="#4b4f55" stroke-width="0.45" stroke-linejoin="round" /><polygon points="230.6,373.1 251.9,362.5 251.9,366.0 230.6,376.6" fill="#979da6" stroke="#4b4f55" stroke-width="0.45" stroke-linejoin="round" /><polygon points="222.1,366.2 243.1,356.0 251.9,362.5 230.6,373.1" fill="#a3a9b1" stroke="#4b4f55" stroke-width="0.45" stroke-linejoin="round" /><path d="M227.4 365.2 v2.5 a4.1 2.1 0 0 0 8.2 0 v-2.5 z" fill="#1d1f22" stroke="#4b4f55" stroke-width="0.3"/><ellipse cx="231.5" cy="365.2" rx="4.1" ry="2.1" fill="#a3a9b1" stroke="#4b4f55" stroke-width="0.3"/><path d="M238.1 360.5 v2.5 a4.1 2.1 0 0 0 8.2 0 v-2.5 z" fill="#1d1f22" stroke="#4b4f55" stroke-width="0.3"/><ellipse cx="242.2" cy="360.5" rx="4.1" ry="2.1" fill="#a3a9b1" stroke="#4b4f55" stroke-width="0.3"/><text class="lb" x="215.00" y="380.60"><tspan x="215.00" dy="0">1x</tspan><tspan x="215.00" dy="5.85">3023</tspan><tspan x="215.00" dy="5.85">Light Bluish Gray</tspan></text><polygon points="222.1,408.8 230.6,415.6 230.0,427.2 222.1,420.6" fill="#8b9199" stroke="#4b4f55" stroke-width="0.45" stroke-linejoin="round" /><polygon points="230.6,415.6 251.9,405.6 246.5,413.8 241.9,421.9 230.0,427.2" fill="#979da6" stroke="#4b4f55" stroke-width="0.45" stroke-linejoin="round" /><polygon points="222.1,408.8 241.9,398.8 251.9,405.6 230.6,415.6" fill="#a3a9b1" stroke="#4b4f55" stroke-width="0.45" stroke-linejoin="round" /><path d="M226.9 408.2 v2.2 a4.1 2.1 0 0 0 8.2 0 v-2.2 z" fill="#1d1f22" stroke="#4b4f55" stroke-width="0.3"/><ellipse cx="231.0" cy="408.2" rx="4.1" ry="2.1" fill="#a3a9b1" stroke="#4b4f55" stroke-width="0.3"/><path d="M238.1 402.5 v3.3 a3.8 2.0 0 0 0 7.5 0 v-3.3 z" fill="#0c0d0e" stroke="#4b4f55" stroke-width="0.3"/><ellipse cx="241.9" cy="402.5" rx="3.8" ry="2.0" fill="#17181a" stroke="#4b4f55" stroke-width="0.3"/><ellipse cx="241.9" cy="402.5" rx="2.0" ry="1.0" fill="#000" stroke="none" stroke-width="0"/><text class="lb" x="215.00" y="431.50"><tspan x="215.00" dy="0">2x</tspan><tspan x="215.00" dy="5.85">3665</tspan><tspan x="215.00" dy="5.85">Light Bluish Gray</tspan></text><polygon points="217.5,460.0 234.4,472.8 234.4,475.9 217.5,463.1" fill="#8b9199" stroke="#4b4f55" stroke-width="0.45" stroke-linejoin="round" /><polygon points="234.4,472.8 255.6,462.5 255.6,465.6 234.4,475.9" fill="#979da6" stroke="#4b4f55" stroke-width="0.45" stroke-linejoin="round" /><polygon points="217.5,460.0 239.4,448.8 255.6,462.5 234.4,472.8" fill="#a3a9b1" stroke="#4b4f55" stroke-width="0.45" stroke-linejoin="round" /><path d="M222.8 458.4 v2.5 a4.1 2.1 0 0 0 8.2 0 v-2.5 z" fill="#1d1f22" stroke="#4b4f55" stroke-width="0.3"/><ellipse cx="226.9" cy="458.4" rx="4.1" ry="2.1" fill="#a3a9b1" stroke="#4b4f55" stroke-width="0.3"/><path d="M231.5 464.6 v2.5 a4.1 2.1 0 0 0 8.2 0 v-2.5 z" fill="#1d1f22" stroke="#4b4f55" stroke-width="0.3"/><ellipse cx="235.6" cy="464.6" rx="4.1" ry="2.1" fill="#a3a9b1" stroke="#4b4f55" stroke-width="0.3"/><text class="lb" x="215.00" y="480.60"><tspan x="215.00" dy="0">1x</tspan><tspan x="215.00" dy="5.85">33909</tspan><tspan x="215.00" dy="5.85">Light Bluish Gray</tspan></text><polygon points="217.5,508.1 234.4,521.2 234.4,524.6 217.5,511.5" fill="#8b9199" stroke="#4b4f55" stroke-width="0.45" stroke-linejoin="round" /><polygon points="234.4,521.2 255.6,510.6 255.6,514.0 234.4,524.6" fill="#979da6" stroke="#4b4f55" stroke-width="0.45" stroke-linejoin="round" /><polygon points="217.5,508.1 239.4,497.5 255.6,510.6 234.4,521.2" fill="#a3a9b1" stroke="#4b4f55" stroke-width="0.45" stroke-linejoin="round" /><path d="M233.6 501.5 v2.5 a4.1 2.1 0 0 0 8.2 0 v-2.5 z" fill="#1d1f22" stroke="#4b4f55" stroke-width="0.3"/><ellipse cx="237.8" cy="501.5" rx="4.1" ry="2.1" fill="#a3a9b1" stroke="#4b4f55" stroke-width="0.3"/><path d="M222.8 506.8 v2.5 a4.1 2.1 0 0 0 8.2 0 v-2.5 z" fill="#1d1f22" stroke="#4b4f55" stroke-width="0.3"/><ellipse cx="226.9" cy="506.8" rx="4.1" ry="2.1" fill="#a3a9b1" stroke="#4b4f55" stroke-width="0.3"/><path d="M242.1 508.4 v2.5 a4.1 2.1 0 0 0 8.2 0 v-2.5 z" fill="#1d1f22" stroke="#4b4f55" stroke-width="0.3"/><ellipse cx="246.2" cy="508.4" rx="4.1" ry="2.1" fill="#a3a9b1" stroke="#4b4f55" stroke-width="0.3"/><path d="M231.5 513.4 v2.5 a4.1 2.1 0 0 0 8.2 0 v-2.5 z" fill="#1d1f22" stroke="#4b4f55" stroke-width="0.3"/><ellipse cx="235.6" cy="513.4" rx="4.1" ry="2.1" fill="#a3a9b1" stroke="#4b4f55" stroke-width="0.3"/><text class="lb" x="215.00" y="529.40"><tspan x="215.00" dy="0">1x</tspan><tspan x="215.00" dy="5.85">3022</tspan><tspan x="215.00" dy="5.85">Light Bluish Gray</tspan></text><polygon points="265.0,320.6 269.4,330.0 282.5,341.5 282.5,337.5 273.8,329.4 273.8,326.9" fill="#8b9199" stroke="#4b4f55" stroke-width="0.45" stroke-linejoin="round" /><polygon points="282.5,337.5 303.1,326.5 303.1,330.6 282.5,341.5" fill="#979da6" stroke="#4b4f55" stroke-width="0.45" stroke-linejoin="round" /><polygon points="265.0,320.6 286.2,310.6 295.0,316.9 274.4,326.9" fill="#a3a9b1" stroke="#4b4f55" stroke-width="0.45" stroke-linejoin="round" /><polygon points="274.4,326.9 295.0,316.9 295.0,320.6 274.4,330.6" fill="#979da6" stroke="#4b4f55" stroke-width="0.45" stroke-linejoin="round" /><polygon points="274.4,330.6 295.0,320.6 303.1,326.5 282.5,337.5" fill="#a3a9b1" stroke="#4b4f55" stroke-width="0.45" stroke-linejoin="round" /><path d="M271.0 319.6 v1.8 a4.0 2.1 0 0 0 8.0 0 v-1.8 z" fill="#0c0d0e" stroke="#4b4f55" stroke-width="0.3"/><ellipse cx="275.0" cy="319.6" rx="4.0" ry="2.1" fill="#17181a" stroke="#4b4f55" stroke-width="0.3"/><ellipse cx="275.0" cy="319.6" rx="2.5" ry="1.2" fill="#8f959d" stroke="none" stroke-width="0"/><path d="M281.4 315.0 v1.8 a4.0 2.1 0 0 0 8.0 0 v-1.8 z" fill="#0c0d0e" stroke="#4b4f55" stroke-width="0.3"/><ellipse cx="285.4" cy="315.0" rx="4.0" ry="2.1" fill="#17181a" stroke="#4b4f55" stroke-width="0.3"/><ellipse cx="285.4" cy="315.0" rx="2.5" ry="1.2" fill="#8f959d" stroke="none" stroke-width="0"/><path d="M279.1 330.9 v1.8 a4.0 2.1 0 0 0 8.0 0 v-1.8 z" fill="#0c0d0e" stroke="#4b4f55" stroke-width="0.3"/><ellipse cx="283.1" cy="330.9" rx="4.0" ry="2.1" fill="#17181a" stroke="#4b4f55" stroke-width="0.3"/><ellipse cx="283.1" cy="330.9" rx="2.5" ry="1.2" fill="#8f959d" stroke="none" stroke-width="0"/><path d="M289.5 325.9 v1.8 a4.0 2.1 0 0 0 8.0 0 v-1.8 z" fill="#0c0d0e" stroke="#4b4f55" stroke-width="0.3"/><ellipse cx="293.5" cy="325.9" rx="4.0" ry="2.1" fill="#17181a" stroke="#4b4f55" stroke-width="0.3"/><ellipse cx="293.5" cy="325.9" rx="2.5" ry="1.2" fill="#8f959d" stroke="none" stroke-width="0"/><text class="lb" x="262.75" y="345.60"><tspan x="262.75" dy="0">1x</tspan><tspan x="262.75" dy="5.85">32803</tspan><tspan x="262.75" dy="5.85">Light Bluish Gray</tspan></text><polygon points="262.5,378.1 278.8,391.2 278.8,394.8 262.5,381.6" fill="#8b9199" stroke="#4b4f55" stroke-width="0.45" stroke-linejoin="round" /><polygon points="278.8,391.2 310.0,373.1 310.0,376.6 278.8,394.8" fill="#979da6" stroke="#4b4f55" stroke-width="0.45" stroke-linejoin="round" /><polygon points="262.5,378.1 295.0,363.1 310.0,373.1 278.8,391.2" fill="#a3a9b1" stroke="#4b4f55" stroke-width="0.45" stroke-linejoin="round" /><path d="M289.0 367.8 v2.5 a4.1 2.1 0 0 0 8.2 0 v-2.5 z" fill="#1d1f22" stroke="#4b4f55" stroke-width="0.3"/><ellipse cx="293.1" cy="367.8" rx="4.1" ry="2.1" fill="#a3a9b1" stroke="#4b4f55" stroke-width="0.3"/><path d="M278.4 372.5 v2.5 a4.1 2.1 0 0 0 8.2 0 v-2.5 z" fill="#1d1f22" stroke="#4b4f55" stroke-width="0.3"/><ellipse cx="282.5" cy="372.5" rx="4.1" ry="2.1" fill="#a3a9b1" stroke="#4b4f55" stroke-width="0.3"/><path d="M267.8 377.5 v2.5 a4.1 2.1 0 0 0 8.2 0 v-2.5 z" fill="#1d1f22" stroke="#4b4f55" stroke-width="0.3"/><ellipse cx="271.9" cy="377.5" rx="4.1" ry="2.1" fill="#a3a9b1" stroke="#4b4f55" stroke-width="0.3"/><path d="M297.1 374.0 v2.5 a4.1 2.1 0 0 0 8.2 0 v-2.5 z" fill="#1d1f22" stroke="#4b4f55" stroke-width="0.3"/><ellipse cx="301.2" cy="374.0" rx="4.1" ry="2.1" fill="#a3a9b1" stroke="#4b4f55" stroke-width="0.3"/><path d="M286.5 378.8 v2.5 a4.1 2.1 0 0 0 8.2 0 v-2.5 z" fill="#1d1f22" stroke="#4b4f55" stroke-width="0.3"/><ellipse cx="290.6" cy="378.8" rx="4.1" ry="2.1" fill="#a3a9b1" stroke="#4b4f55" stroke-width="0.3"/><path d="M275.9 383.8 v2.5 a4.1 2.1 0 0 0 8.2 0 v-2.5 z" fill="#1d1f22" stroke="#4b4f55" stroke-width="0.3"/><ellipse cx="280.0" cy="383.8" rx="4.1" ry="2.1" fill="#a3a9b1" stroke="#4b4f55" stroke-width="0.3"/><text class="lb" x="262.75" y="399.00"><tspan x="262.75" dy="0">1x</tspan><tspan x="262.75" dy="5.85">3021</tspan><tspan x="262.75" dy="5.85">Light Bluish Gray</tspan></text><polygon points="262.5,421.9 273.1,416.9 280.0,421.9 290.0,435.6 290.0,438.1 279.4,443.1 271.9,436.9 271.9,433.1 262.5,425.0" fill="#fafafa" stroke="#868686" stroke-width="0.6" stroke-linejoin="round" /><polyline points="262.5,421.9 269.4,426.9 271.9,433.1 279.4,440.0 290.0,435.6" fill="none" stroke="#868686" stroke-width="0.4" stroke-linecap="round" stroke-linejoin="round" /><polyline points="279.4,440.0 279.4,443.1" fill="none" stroke="#868686" stroke-width="0.4" stroke-linecap="round" stroke-linejoin="round" /><polyline points="269.4,426.9 280.0,421.9" fill="none" stroke="#868686" stroke-width="0.35" stroke-linecap="round" stroke-linejoin="round" /><polygon points="271.2,426.2 278.1,423.1 285.0,432.5 278.1,435.6" fill="#f0f0f0" stroke="#c4c4c4" stroke-width="0.3" stroke-linejoin="round" /><polyline points="275.0,430.0 281.9,427.2" fill="none" stroke="#c4c4c4" stroke-width="0.3" stroke-linecap="round" stroke-linejoin="round" /><text class="lb" x="262.75" y="447.25"><tspan x="262.75" dy="0">1x</tspan><tspan x="262.75" dy="5.85">11477</tspan><tspan x="262.75" dy="5.85">Trans-Clear</tspan></text><path d="M272.4 471.5 v2.7 a7.0 4.2 0 0 0 14.0 0 v-2.7 z" fill="#7f8a9b" stroke="#5d6470" stroke-width="0.4"/><ellipse cx="279.4" cy="471.5" rx="7.0" ry="4.2" fill="#a9b3c2" stroke="#5d6470" stroke-width="0.4"/><ellipse cx="279.4" cy="470.8" rx="4.8" ry="2.5" fill="#23262b" stroke="none" stroke-width="0"/><path d="M275.6 468.0 v2.4 a3.8 1.9 0 0 0 7.5 0 v-2.4 z" fill="#30343b" stroke="#4a4f58" stroke-width="0.3"/><ellipse cx="279.4" cy="468.0" rx="3.8" ry="1.9" fill="#c2cad6" stroke="#4a4f58" stroke-width="0.3"/><polyline points="280.6,466.5 284.0,465.6" fill="none" stroke="#ffffff" stroke-width="0.6" stroke-linecap="round" stroke-linejoin="round" /><text class="lb" x="262.75" y="481.50"><tspan x="262.75" dy="0">2x</tspan><tspan x="262.75" dy="5.85">4073</tspan><tspan x="262.75" dy="5.85">Metallic Silver</tspan></text><rect x="295" y="519.3" width="81.4" height="23.2" fill="#000"/><path d="M308.8 526.0 C304.4 526.8 301.2 529.5 301.5 532.6 C301.9 536.4 311.2 537.0 313.1 533.2 C313.8 530.1 306.2 529.5 302.5 532.0 C302.5 532.0 302.5 532.0 302.5 532.0" fill="none" stroke="#fff" stroke-width="1.45" stroke-linecap="round" stroke-linejoin="round"/><path d="M315.6 526.4 L315.9 536.0 M322.8 526.0 L323.0 536.0 M315.0 532.0 L324.0 531.0" fill="none" stroke="#fff" stroke-width="1.45" stroke-linecap="round" stroke-linejoin="round"/><path d="M325.6 536.0 L330.6 526.0 L336.5 536.4 M327.2 532.6 L335.6 532.0" fill="none" stroke="#fff" stroke-width="1.45" stroke-linecap="round" stroke-linejoin="round"/><path d="M345.6 526.0 C341.2 526.8 338.1 529.5 338.4 532.6 C338.8 536.4 348.1 537.0 349.8 533.2 C350.4 530.1 343.1 529.5 339.4 532.0" fill="none" stroke="#fff" stroke-width="1.45" stroke-linecap="round" stroke-linejoin="round"/><rect x="358.6" y="525.0" width="5.2" height="5.2" fill="#5e5e5e"/><path d="M359.4 526.6 h3.6 M359.4 528.4 h3.6 M361.2 525.8 v3.6" stroke="#222" stroke-width="0.6" fill="none"/><rect x="364.6" y="525.0" width="5.2" height="5.2" fill="#5e5e5e"/><path d="M365.4 526.6 h3.6 M365.4 528.4 h3.6 M367.2 525.8 v3.6" stroke="#222" stroke-width="0.6" fill="none"/><rect x="358.6" y="531.0" width="5.2" height="5.2" fill="#5e5e5e"/><path d="M359.4 532.6 h3.6 M359.4 534.4 h3.6 M361.2 531.8 v3.6" stroke="#222" stroke-width="0.6" fill="none"/><rect x="364.6" y="531.0" width="5.2" height="5.2" fill="#5e5e5e"/><path d="M365.4 532.6 h3.6 M365.4 534.4 h3.6 M367.2 531.8 v3.6" stroke="#222" stroke-width="0.6" fill="none"/></g>
</defs>
<rect x="0" y="0" width="800" height="568" fill="#fff"/>
<use href="#top" x="0" y="0"/>
<use href="#top" x="400" y="0"/>
<use href="#list" x="0" y="0"/>
<text x="512.4" y="94.4" font-weight="bold" font-size="14.2" fill="#000">14</text><g id="ship"><line x1="612.1" y1="127.2" x2="620.3" y2="130.8" stroke="#15171b" stroke-width="2.6" stroke-linecap="round"/><polygon points="570.0,137.7 574.1,134.5 579.1,137.7 587.4,137.7 605.7,132.7 602.9,139.1 595.6,149.1 582.8,156.5 581.0,158.3 581.0,145.5 570.0,140.4" fill="#9aa1ad" stroke="#50555e" stroke-width="0.45" stroke-linejoin="round" /><polygon points="570.0,137.7 581.0,142.7 606.6,133.1 605.7,134.9 581.4,145.0 570.0,140.0" fill="#b4bac4" stroke="none" stroke-width="0" stroke-linejoin="round" /><polygon points="584.2,145.5 585.1,143.2 589.7,142.0 591.0,143.6 591.0,148.2 586.5,150.5 584.2,149.6" fill="#a9afba" stroke="#5c626c" stroke-width="0.35" stroke-linejoin="round" /><ellipse cx="592.5" cy="142.9" rx="1.1" ry="1.5" fill="#191a1c" stroke="none" stroke-width="0"/><polyline points="582.8,154.6 595.6,147.3" fill="none" stroke="#6d7480" stroke-width="0.4" stroke-linecap="round" stroke-linejoin="round" /><polyline points="582.8,152.3 593.8,146.4" fill="none" stroke="#6d7480" stroke-width="0.3" stroke-linecap="round" stroke-linejoin="round" /><path d="M 574.1 134.9 C 573.2 131.7 575.5 130.4 578.2 129.2 L 588.3 124.4 L 599.3 126.1 L 604.8 121.7 L 614.1 123.0 L 614.1 127.6 L 606.6 131.9 L 587.4 138.0 C 582.8 139.2 575.5 138.6 574.1 134.9 Z" fill="#4c4e48" stroke="#2c2e2a" stroke-width="0.45" stroke-linejoin="round" /><path d="M 574.1 133.1 C 573.6 130.8 575.5 129.9 578.2 129.0 L 588.3 124.4 L 599.3 126.1 L 604.8 121.7 L 614.1 123.0 L 606.6 129.4 L 587.4 135.9 C 582.8 137.0 575.5 136.8 574.1 133.1 Z" fill="#5d5f58" stroke="#2c2e2a" stroke-width="0.35" stroke-linejoin="round" /><polyline points="588.3,124.4 597.9,129.4 606.6,129.4" fill="none" stroke="#2c2e2a" stroke-width="0.35" stroke-linecap="round" stroke-linejoin="round" /><polyline points="579.6,130.8 586.9,135.9" fill="none" stroke="#2c2e2a" stroke-width="0.3" stroke-linecap="round" stroke-linejoin="round" /><polygon points="607.5,127.2 614.1,123.5 614.1,128.1 612.1,131.7 608.0,132.7" fill="#4c4e48" stroke="#2c2e2a" stroke-width="0.35" stroke-linejoin="round" /><polygon points="559.7,149.9 567.7,142.0 575.5,140.9 577.5,144.6 575.5,148.2 564.5,153.0" fill="#e9ecee" stroke="#8a8f96" stroke-width="0.45" stroke-linejoin="round" /><polygon points="562.7,149.6 568.6,144.1 574.6,143.2 575.0,145.9 566.3,150.1" fill="#ffffff" stroke="#b8bcc2" stroke-width="0.3" stroke-linejoin="round" /><polygon points="553.0,155.1 559.9,151.4 564.5,153.5 577.3,148.7 581.0,150.1 581.0,158.3 566.3,165.6 561.7,165.6 553.0,161.0" fill="#55574f" stroke="#2c2e2a" stroke-width="0.45" stroke-linejoin="round" /><polygon points="564.5,153.5 577.3,148.7 581.0,150.1 567.7,155.5" fill="#66685f" stroke="#2c2e2a" stroke-width="0.3" stroke-linejoin="round" /><polyline points="567.7,155.5 567.7,164.7" fill="none" stroke="#2c2e2a" stroke-width="0.35" stroke-linecap="round" stroke-linejoin="round" /><polyline points="575.9,152.1 575.9,160.6" fill="none" stroke="#2c2e2a" stroke-width="0.35" stroke-linecap="round" stroke-linejoin="round" /><polyline points="578.2,151.2 578.2,159.4" fill="none" stroke="#2c2e2a" stroke-width="0.35" stroke-linecap="round" stroke-linejoin="round" /><polygon points="553.0,155.1 559.9,151.4 564.5,153.5 561.7,157.4 557.2,158.3" fill="#3e403b" stroke="#2c2e2a" stroke-width="0.3" stroke-linejoin="round" /><ellipse cx="557.6" cy="160.3" rx="2.6" ry="2.9" fill="#111318" stroke="#000" stroke-width="0.3"/><ellipse cx="557.2" cy="160.1" rx="1.1" ry="1.4" fill="#5a606b" stroke="none" stroke-width="0"/><ellipse cx="560.4" cy="157.4" rx="1.6" ry="1.3" fill="#111318" stroke="none" stroke-width="0"/><ellipse cx="557.9" cy="167.0" rx="1.3" ry="1.3" fill="#111318" stroke="none" stroke-width="0"/><polyline points="558.5,163.8 558.1,166.5" fill="none" stroke="#111318" stroke-width="0.9" stroke-linecap="round" stroke-linejoin="round" /></g><polygon points="578.0,113.2 584.6,108.2 595.9,110.6 595.9,116.9 586.6,121.1 579.6,117.8" fill="#50524b" stroke="#d8453a" stroke-width="0.95" stroke-linejoin="round" /><polygon points="578.0,113.2 584.6,108.2 595.9,110.6 588.6,114.5" fill="#62645c" stroke="none" stroke-width="0" stroke-linejoin="round" /><polyline points="578.0,113.2 588.6,114.5 595.9,110.6" fill="none" stroke="#2c2e2a" stroke-width="0.3" stroke-linecap="round" stroke-linejoin="round" /><polyline points="588.6,114.5 587.0,120.9" fill="none" stroke="#2c2e2a" stroke-width="0.3" stroke-linecap="round" stroke-linejoin="round" /><ellipse cx="591.9" cy="114.8" rx="1.3" ry="1.8" fill="#2a2b28" stroke="none" stroke-width="0"/><polygon points="620.3,135.0 630.9,129.7 639.1,133.0 639.1,139.6 627.2,143.1 621.9,139.6" fill="#50524b" stroke="#d8453a" stroke-width="0.95" stroke-linejoin="round" /><polygon points="620.3,135.0 630.9,129.7 639.1,133.0 628.2,137.0" fill="#62645c" stroke="none" stroke-width="0" stroke-linejoin="round" /><polyline points="620.3,135.0 628.2,137.0 639.1,133.0" fill="none" stroke="#2c2e2a" stroke-width="0.3" stroke-linecap="round" stroke-linejoin="round" /><polyline points="628.2,137.0 627.4,142.8" fill="none" stroke="#2c2e2a" stroke-width="0.3" stroke-linecap="round" stroke-linejoin="round" /><polyline points="596.3,114.8 601.5,118.2" fill="none" stroke="#222" stroke-width="0.5" stroke-linecap="round" stroke-linejoin="round" /><polygon points="602.1,118.6 600.2,118.2 601.0,117.0" fill="#222" stroke="none" stroke-width="0" stroke-linejoin="round" /><polyline points="617.0,124.0 626.9,128.4" fill="none" stroke="#222" stroke-width="0.5" stroke-linecap="round" stroke-linejoin="round" /><polygon points="616.1,123.5 618.1,123.5 617.4,124.8" fill="#222" stroke="none" stroke-width="0" stroke-linejoin="round" /><ellipse cx="598.1" cy="120.5" rx="1.8" ry="1.6" fill="#15171b" stroke="none" stroke-width="0"/><line x1="612.4" y1="127.5" x2="620.6" y2="131.3" stroke="#15171b" stroke-width="3.2" stroke-linecap="round"/><ellipse cx="590.7" cy="139.8" rx="55.8" ry="41.8" fill="none" stroke="#ec6544" stroke-width="1.35" stroke-dasharray="1.35 1.5"/><g id="otxt"><text class="org" x="556.7" y="194.5" textLength="73.3" lengthAdjust="spacingAndGlyphs">Buffer Exchange</text><text class="org" x="556.7" y="208" textLength="92.6" lengthAdjust="spacingAndGlyphs">der vorherigen Seite</text></g>
<text x="512.4" y="377.8" font-weight="bold" font-size="14.2" fill="#000">17</text><use href="#ship" x="12.5" y="283.8"/><g filter="url(#redo)"><g transform="translate(542.0,368.3) scale(0.42)"><use href="#m15"/></g><g transform="translate(527.2,398.2) scale(0.41)"><use href="#m16"/></g></g><line x1="579" y1="413.3" x2="584.5" y2="416.5" stroke="#222" stroke-width="0.5"/><line x1="608.5" y1="429" x2="614.5" y2="430.7" stroke="#222" stroke-width="0.5"/>
<use href="#list" x="399.6" y="-0.3"/>
<polygon points="602.8,405.3 607.6,401.4 613.9,402.2 619.4,399.0 627.4,403.8 627.4,408.5 616.3,415.2 608.4,411.4" fill="#53554e" stroke="#2c2e2a" stroke-width="0.4" stroke-linejoin="round" /><polygon points="602.8,405.3 607.6,401.4 613.9,402.2 619.4,399.0 627.4,403.8 614.7,410.1 608.4,407.7" fill="#5f6159" stroke="none" stroke-width="0" stroke-linejoin="round" /><ellipse cx="597.7" cy="424.8" rx="52.7" ry="40.7" fill="none" stroke="#ec6544" stroke-width="1.35" stroke-dasharray="1.35 1.5"/><use href="#otxt" x="99.5" y="224.3"/>
<rect x="0" y="0" width="800" height="1.6" fill="#5a5a5a"/><rect x="0" y="0" width="2" height="568" fill="#5a5a5a"/><rect x="798" y="0" width="2" height="568" fill="#5a5a5a"/><rect x="0" y="565.6" width="800" height="2.4" fill="#5a5a5a"/><rect x="797" y="2" width="1" height="563" fill="#cfcfcf"/><rect x="2" y="564.6" width="796" height="1" fill="#cfcfcf"/><rect x="397.8" y="0" width="4.4" height="568" fill="#5c5c5c"/><rect x="399.2" y="0" width="1.6" height="568" fill="#7e7e7e"/><rect x="0" y="281.8" width="800" height="4.2" fill="#4d4d4d"/><polygon points="332.5,272 387.5,272 387.5,261 442.5,283 387.5,305 387.5,294.5 332.5,294.5 360,283" fill="#1cb7ea"/><text x="362.8" y="286.9" font-size="10.2" fill="#111" textLength="65.2" lengthAdjust="spacingAndGlyphs">Studio v2.25.5</text>
</svg></body></html>
